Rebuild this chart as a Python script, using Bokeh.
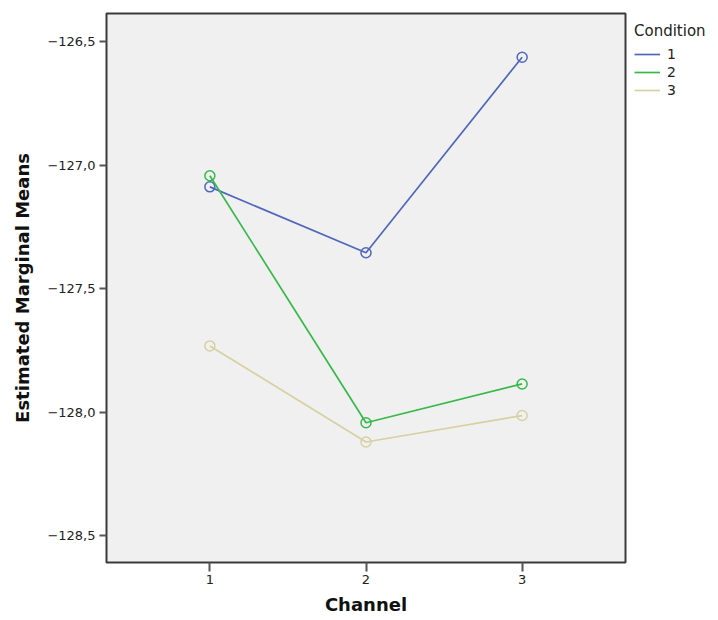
from bokeh.plotting import figure
from bokeh.models import Range1d, FixedTicker, Legend, LegendItem
from bokeh.embed import file_html
from bokeh.resources import INLINE

channels = [1, 2, 3]
x_tick_labels = ["1", "2", "3"]
conditions = ["1", "2", "3"]
cond1 = [-127.087, -127.354, -126.562]
cond2 = [-127.042, -128.042, -127.885]
cond3 = [-127.731, -128.120, -128.013]
y_ticks = [-126.5, -127.0, -127.5, -128.0, -128.5]
y_tick_labels = ["\u2212126,5", "\u2212127,0", "\u2212127,5", "\u2212128,0", "\u2212128,5"]
colors = ["#5067BB", "#36B94A", "#D6D0A2"]

FONT = "DejaVu Sans"
FW, FH = 519, 549

p = figure(width=716, height=618, output_backend="svg", toolbar_location=None,
           x_range=Range1d(0.338, 3.662), y_range=Range1d(-128.608, -126.385),
           frame_width=FW, frame_height=FH,
           min_border_left=106, min_border_right=90, min_border_top=13, min_border_bottom=56)

p.background_fill_color = "#F0F0F0"
p.border_fill_color = "white"
p.outline_line_color = "#3a3a3a"
p.outline_line_width = 2
p.xgrid.visible = False
p.ygrid.visible = False

series = [cond1, cond2, cond3]
items = []
for name, vals, c in zip(conditions, series, colors):
    r = p.line(channels, vals, line_color=c, line_width=1.7)
    p.scatter(channels, vals, marker="circle", size=10, fill_color=None,
              line_color=c, line_width=1.5)
    items.append(LegendItem(label=name, renderers=[r]))

p.xaxis.ticker = FixedTicker(ticks=channels)
p.xaxis.major_label_overrides = {c: l for c, l in zip(channels, x_tick_labels)}
p.yaxis.ticker = FixedTicker(ticks=y_ticks)
p.yaxis.major_label_overrides = {t: l for t, l in zip(y_ticks, y_tick_labels)}

for ax in (p.xaxis, p.yaxis):
    ax.axis_line_color = None
    ax.minor_tick_line_color = None
    ax.major_tick_line_color = "#555555"
    ax.major_tick_line_width = 2
    ax.major_tick_in = 0
    ax.major_label_text_font = FONT
    ax.major_label_text_font_size = "13px"
    ax.major_label_text_color = "#222222"
    ax.axis_label_text_font = FONT
    ax.axis_label_text_font_style = "bold"
    ax.axis_label_text_font_size = "18px"
    ax.axis_label_text_color = "#111111"

p.xaxis.major_tick_out = 9
p.xaxis.major_label_standoff = 3
p.xaxis.axis_label = "Channel"
p.xaxis.axis_label_standoff = 7
p.yaxis.major_tick_out = 7
p.yaxis.major_label_standoff = 4
p.yaxis.axis_label = "Estimated Marginal Means"
p.yaxis.axis_label_standoff = 11

legend = Legend(items=items, location="top_left", orientation="vertical",
                title="Condition", title_text_font=FONT, title_text_font_size="15px",
                title_text_font_style="normal", title_text_color="#222222",
                title_standoff=6,
                glyph_width=26, glyph_height=16, label_height=16, spacing=2,
                label_standoff=7, padding=0, margin=9,
                border_line_color=None, background_fill_alpha=0,
                label_text_font=FONT, label_text_font_size="14px",
                label_text_color="#222222")
p.add_layout(legend, "right")

open("out.html", "w").write(file_html(p, INLINE))
